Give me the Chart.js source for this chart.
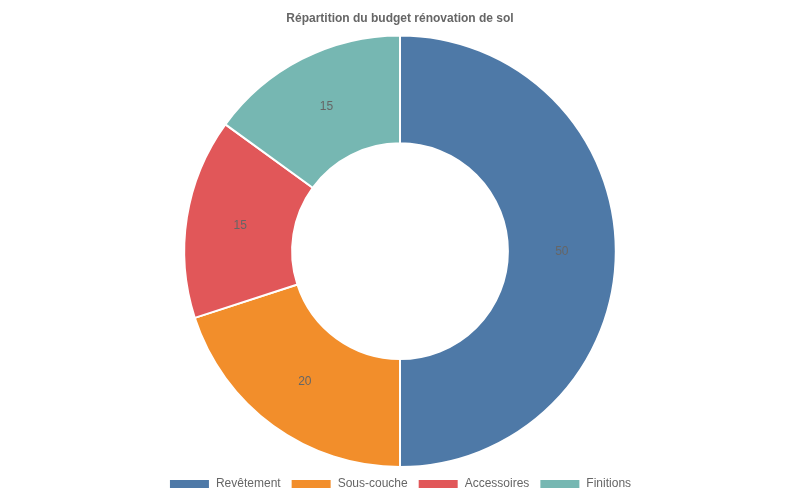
<!DOCTYPE html>
<html>
<head>
<meta charset="utf-8">
<script src="https://cdn.jsdelivr.net/npm/chart.js@4"></script>
<style>
  html, body { margin: 0; padding: 0; background: #fff; }
  #wrap { width: 800px; height: 500px; }
</style>
</head>
<body>
<div id="wrap"><canvas id="budgetChart"></canvas></div>
<script>
// Chart data
const categories = ['Revêtement', 'Sous-couche', 'Accessoires', 'Finitions'];
const budgetShares = [50, 20, 15, 15];
const sliceColors = ['#4e79a7', '#f28e2b', '#e15759', '#76b7b2'];

Chart.defaults.font.family = '"Liberation Sans", Arial, sans-serif';
Chart.defaults.color = '#666';

// Draw each value in the middle of its slice
const sliceLabels = {
    id: 'sliceLabels',
    afterDatasetsDraw(chart) {
        const ctx = chart.ctx;
        const meta = chart.getDatasetMeta(0);
        ctx.save();
        ctx.font = '12px "Liberation Sans", Arial, sans-serif';
        ctx.fillStyle = '#666';
        ctx.textAlign = 'center';
        ctx.textBaseline = 'middle';
        meta.data.forEach((arc, i) => {
            const pos = arc.tooltipPosition();
            ctx.fillText(String(chart.data.datasets[0].data[i]), pos.x, pos.y);
        });
        ctx.restore();
    }
};

const ctx = document.getElementById('budgetChart').getContext('2d');
const budgetChart = new Chart(ctx, {
    type: 'doughnut',
    data: {
        labels: categories,
        datasets: [{
            data: budgetShares,
            backgroundColor: sliceColors,
            borderColor: '#fff',
            borderWidth: 2,
        }]
    },
    options: {
        responsive: true,
        maintainAspectRatio: false,
        animation: false,
        cutout: '50%',
        plugins: {
            title: {
                display: true,
                text: 'Répartition du budget rénovation de sol',
                font: { size: 12, weight: 'bold' },
                color: '#666',
                padding: { top: 11, bottom: 9 }
            },
            legend: {
                position: 'bottom',
                labels: { boxWidth: 41, boxHeight: 10, font: { size: 12 } }
            },
            tooltip: { enabled: false }
        }
    },
    plugins: [sliceLabels]
});
</script>
</body>
</html>
